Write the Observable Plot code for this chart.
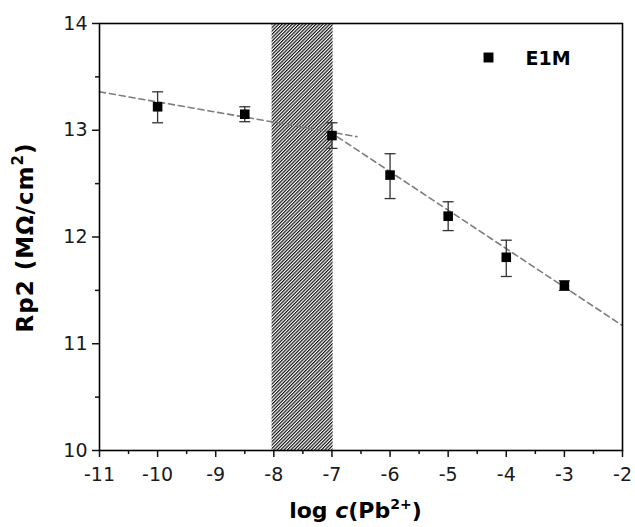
<!DOCTYPE html>
<html>
<head>
<meta charset="utf-8">
<script src="https://cdn.jsdelivr.net/npm/d3@7"></script>
<script src="https://cdn.jsdelivr.net/npm/@observablehq/plot@0.6"></script>
<style>
  html, body { margin: 0; padding: 0; background: #fff; }
  #chart svg { display: block; }
</style>
</head>
<body>
<div id="chart"></div>
<script>
// ---- data ----
const logC    = [-10, -8.5, -7, -6, -5, -4, -3];
const rp2     = [13.22, 13.15, 12.95, 12.58, 12.195, 11.81, 11.545];
const errLow  = [13.07, 13.08, 12.83, 12.36, 12.06, 11.63, 11.50];
const errHigh = [13.36, 13.22, 13.07, 12.78, 12.33, 11.97, 11.59];

const fitLowX  = [-11, -6.57];
const fitLowY  = [13.36, 12.94];
const fitHighX = [-7.05, -2];
const fitHighY = [12.99, 11.17];

const hatchX = [-8.03, -6.98];
const yDomain = [10, 14];
const xDomain = [-11, -2];

const xTicks = [-11, -10, -9, -8, -7, -6, -5, -4, -3, -2];
const xMinorTicks = [-10.5, -9.5, -8.5, -7.5, -6.5, -5.5, -4.5, -3.5, -2.5];
const yTicks = [10, 11, 12, 13, 14];
const yMinorTicks = [10.5, 11.5, 12.5, 13.5];

const seriesName = "E1M";

// ---- tables for the library ----
const points = logC.map((x, i) => ({x, y: rp2[i], lo: errLow[i], hi: errHigh[i]}));
const fitLow = fitLowX.map((x, i) => ({x, y: fitLowY[i]}));
const fitHigh = fitHighX.map((x, i) => ({x, y: fitHighY[i]}));
const hatch = [{x1: hatchX[0], x2: hatchX[1], y1: yDomain[0], y2: yDomain[1]}];

const capSymbol = {
  draw(context, size) {
    const r = Math.sqrt(size / Math.PI);
    context.moveTo(-r, 0);
    context.lineTo(r, 0);
  }
};

const FONT = "'DejaVu Sans', Verdana, sans-serif";
const W = 635, H = 527;
const mL = 99, mR = 13, mT = 23, mB = 77;

const chart = Plot.plot({
  width: W,
  height: H,
  marginLeft: mL,
  marginRight: mR,
  marginTop: mT,
  marginBottom: mB,
  style: {fontFamily: FONT, background: "#fff", color: "#111"},
  x: {domain: xDomain},
  y: {domain: yDomain},
  marks: [
    Plot.rect(hatch, {x1: "x1", x2: "x2", y1: "y1", y2: "y2", fill: "url(#hatch)"}),
    Plot.line(fitLow, {x: "x", y: "y", stroke: "#7d7d7d", strokeWidth: 1.6, strokeDasharray: "6,4"}),
    Plot.line(fitHigh, {x: "x", y: "y", stroke: "#7d7d7d", strokeWidth: 1.6, strokeDasharray: "6,4"}),
    Plot.ruleX(points, {x: "x", y1: "lo", y2: "hi", stroke: "#333", strokeWidth: 1.3}),
    Plot.dot(points, {x: "x", y: "lo", symbol: capSymbol, r: 5.5, stroke: "#333", strokeWidth: 1.3}),
    Plot.dot(points, {x: "x", y: "hi", symbol: capSymbol, r: 5.5, stroke: "#333", strokeWidth: 1.3}),
    Plot.dot(points, {x: "x", y: "y", symbol: "square", r: 5.4, fill: "#000", stroke: "none"}),
    // legend
    Plot.dot([seriesName], {frameAnchor: "top-right", dx: -134, dy: 34, symbol: "square", r: 5.6, fill: "#000", stroke: "none"}),
    Plot.text([seriesName], {frameAnchor: "top-right", dx: -97, dy: 35, lineAnchor: "middle", text: d => d, textAnchor: "start",
      fontSize: 19, fontWeight: "bold", fill: "#000"}),
    Plot.frame({stroke: "#000", strokeWidth: 1.6}),
    Plot.axisX({ticks: xTicks, tickSize: 7, tickPadding: 10, tickFormat: d => `${d}`, fontSize: 19,
      strokeWidth: 1.5, label: null, fill: "#1a1a1a"}),
    Plot.axisX({ticks: xMinorTicks, tickSize: 4, tickFormat: () => "", strokeWidth: 1.5, label: null}),
    Plot.axisY({ticks: yTicks, tickSize: 7, tickPadding: 5, tickFormat: d => `${d}`, fontSize: 19,
      strokeWidth: 1.5, label: null, fill: "#1a1a1a"}),
    Plot.axisY({ticks: yMinorTicks, tickSize: 4, tickFormat: () => "", strokeWidth: 1.5, label: null})
  ]
});

const svg = d3.select(chart);

// hatch pattern
const defs = svg.insert("defs", ":first-child");
const pat = defs.append("pattern")
  .attr("id", "hatch")
  .attr("patternUnits", "userSpaceOnUse")
  .attr("width", 2.4)
  .attr("height", 10)
  .attr("patternTransform", "rotate(45)");
pat.append("rect").attr("width", 2.4).attr("height", 10).attr("fill", "#fff");
pat.append("line").attr("x1", 0.6).attr("y1", 0).attr("x2", 0.6).attr("y2", 10)
  .attr("stroke", "#111").attr("stroke-width", 1.2);

// axis titles (rich text)
const xt = svg.append("text")
  .attr("x", (mL + W - mR) / 2 - 5)
  .attr("y", 518)
  .attr("text-anchor", "middle")
  .attr("font-family", FONT)
  .attr("font-weight", "bold")
  .attr("font-size", 22)
  .attr("fill", "#000");
xt.append("tspan").text("log ");
xt.append("tspan").attr("font-style", "italic").text("c");
xt.append("tspan").text("(Pb");
xt.append("tspan").attr("font-size", 14).attr("dy", -9).text("2+");
xt.append("tspan").attr("dy", 9).text(")");

const yt = svg.append("text")
  .attr("transform", `translate(33, ${(mT + H - mB) / 2 + 1}) rotate(-90)`)
  .attr("text-anchor", "middle")
  .attr("font-family", FONT)
  .attr("font-weight", "bold")
  .attr("font-size", 23)
  .attr("letter-spacing", 1)
  .attr("fill", "#000");
yt.append("tspan").text("Rp2 (M\u03A9/cm");
yt.append("tspan").attr("font-size", 15).attr("dy", -10).text("2");
yt.append("tspan").attr("dy", 10).text(")");

document.getElementById("chart").appendChild(chart);
</script>
</body>
</html>
